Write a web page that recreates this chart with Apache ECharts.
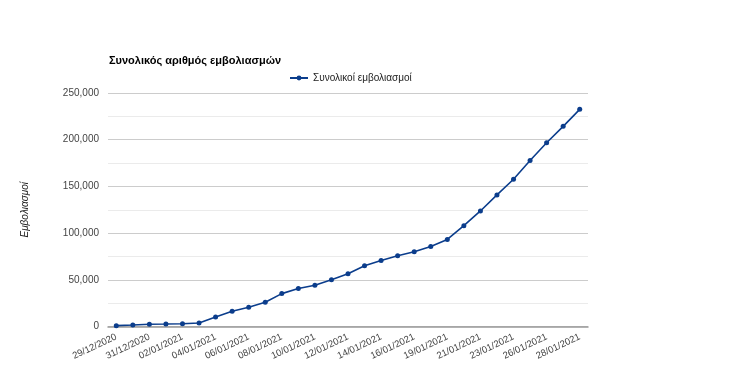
<!DOCTYPE html>
<html>
<head>
<meta charset="utf-8">
<script src="https://cdn.jsdelivr.net/npm/echarts@6/dist/echarts.min.js"></script>
<style>html,body{margin:0;padding:0;background:#fff;}#c{width:734px;height:390px;}</style>
</head>
<body>
<div id="c"></div>
<script>
const categories = ["29/12/2020","30/12/2020","31/12/2020","01/01/2021","02/01/2021","03/01/2021","04/01/2021","05/01/2021","06/01/2021","07/01/2021","08/01/2021","09/01/2021","10/01/2021","11/01/2021","12/01/2021","13/01/2021","14/01/2021","15/01/2021","16/01/2021","18/01/2021","19/01/2021","20/01/2021","21/01/2021","22/01/2021","23/01/2021","25/01/2021","26/01/2021","27/01/2021","28/01/2021"];
const totalVaccinations = [900,1600,2400,2600,3000,3700,10200,16300,20600,26000,35200,40600,44200,50000,56400,65000,70700,75700,80000,85700,93200,108000,123700,140900,157700,177700,196700,214300,232500];
const seriesName = "Συνολικοί εμβολιασμοί";
const chartTitle = "Συνολικός αριθμός εμβολιασμών";
const yAxisName = "Εμβολιασμοί";

const chart = echarts.init(document.getElementById('c'));
const font = "Liberation Sans, Arial, sans-serif";
chart.setOption({
  animation: false,
  textStyle: {fontFamily: font},
  title: {
    text: chartTitle, left: 104, top: 50,
    textStyle: {fontSize: 11, fontWeight: 'bold', color: '#000', fontFamily: font}
  },
  legend: {
    left: 284, top: 68, itemWidth: 18, itemHeight: 6, itemGap: 5,
    textStyle: {fontSize: 10, color: '#222', fontFamily: font},
    data: [seriesName]
  },
  grid: {left: 108, right: 146, top: 93, bottom: 63.5},
  xAxis: {
    type: 'category', data: categories, boundaryGap: true,
    axisLine: {lineStyle: {color: '#999', width: 1.5}},
    axisTick: {show: false},
    axisLabel: {interval: 1, rotate: 25, fontSize: 9.5, color: '#444', margin: 10, fontFamily: font}
  },
  yAxis: {
    type: 'value', min: 0, max: 250000, interval: 50000,
    name: yAxisName, nameLocation: 'middle', nameGap: 78,
    nameTextStyle: {fontSize: 10, fontStyle: 'italic', color: '#222', fontFamily: font},
    axisLine: {show: false}, axisTick: {show: false},
    axisLabel: {fontSize: 10, color: '#444', margin: 9, fontFamily: font,
      formatter: v => v.toLocaleString('en-US')},
    splitLine: {lineStyle: {color: '#ccc'}},
    minorTick: {show: false, splitNumber: 2},
    minorSplitLine: {show: true, lineStyle: {color: '#ebebeb'}}
  },
  series: [{
    name: seriesName, type: 'line', data: totalVaccinations,
    symbol: 'circle', symbolSize: 5, showSymbol: true,
    lineStyle: {color: '#0b3d8c', width: 1.6},
    itemStyle: {color: '#0b3d8c'}
  }]
});
</script>
</body>
</html>
